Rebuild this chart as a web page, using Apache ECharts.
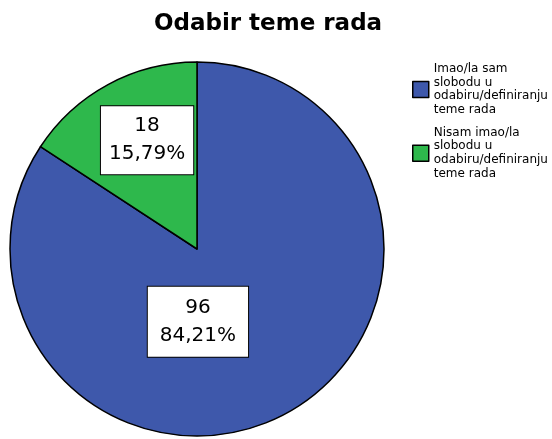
<!DOCTYPE html>
<html>
<head>
<meta charset="utf-8">
<script src="https://cdn.jsdelivr.net/npm/echarts@6/dist/echarts.min.js"></script>
<style>
  html, body { margin: 0; padding: 0; background: #fff; overflow: hidden; }
  #main { width: 552px; height: 439px; }
</style>
</head>
<body>
<div id="main"></div>
<script>
// podaci
var categories = ['Imao/la sam slobodu u odabiru/definiranju teme rada', 'Nisam imao/la slobodu u odabiru/definiranju teme rada'];
var legendLines = [
    ['Imao/la sam', 'slobodu u', 'odabiru/definiranju', 'teme rada'],
    ['Nisam imao/la', 'slobodu u', 'odabiru/definiranju', 'teme rada']
];
var values = [96, 18];
var colors = ['#3e58ab', '#2eb84c'];
var labelOffsets = [[-45, -12], [-4, -24]];
var labelPaddings = [[7, 12, 7, 12], [6, 8, 6, 8]];

var myChart = echarts.init(document.getElementById('main'));

var seriesData = values.map(function (v, i) {
    return {
        name: categories[i],
        value: v,
        itemStyle: { color: colors[i] },
        label: { offset: labelOffsets[i], padding: labelPaddings[i] }
    };
});

myChart.setOption({
    animation: false,
    title: {
        text: 'Odabir teme rada',
        left: 263,
        textAlign: 'center',
        top: 8,
        textStyle: {
            fontFamily: 'DejaVu Sans',
            fontWeight: 'bold',
            fontSize: 23,
            color: '#000'
        }
    },
    legend: {
        orient: 'vertical',
        left: 407,
        top: 57,
        itemWidth: 16,
        itemHeight: 16,
        itemGap: 9,
        icon: 'rect',
        itemStyle: { borderColor: '#000', borderWidth: 1.5 },
        data: categories,
        formatter: function (name) {
            var i = categories.indexOf(name);
            return legendLines[i].join('\n');
        },
        textStyle: {
            fontFamily: 'DejaVu Sans',
            fontSize: 12,
            lineHeight: 13.7,
            color: '#000'
        }
    },
    series: [{
        type: 'pie',
        center: [197, 249],
        radius: 187,
        startAngle: 90,
        clockwise: true,
        emphasis: { disabled: true },
        itemStyle: { borderColor: '#000', borderWidth: 1.5 },
        label: {
            show: true,
            position: 'inside',
            formatter: function (p) {
                return p.value + '\n' + p.percent.toFixed(2).replace('.', ',') + '%';
            },
            fontFamily: 'DejaVu Sans',
            fontSize: 20,
            lineHeight: 28,
            color: '#000',
            backgroundColor: '#fff',
            borderColor: '#000',
            borderWidth: 1
        },
        labelLine: { show: false },
        data: seriesData
    }]
});
</script>
</body>
</html>
